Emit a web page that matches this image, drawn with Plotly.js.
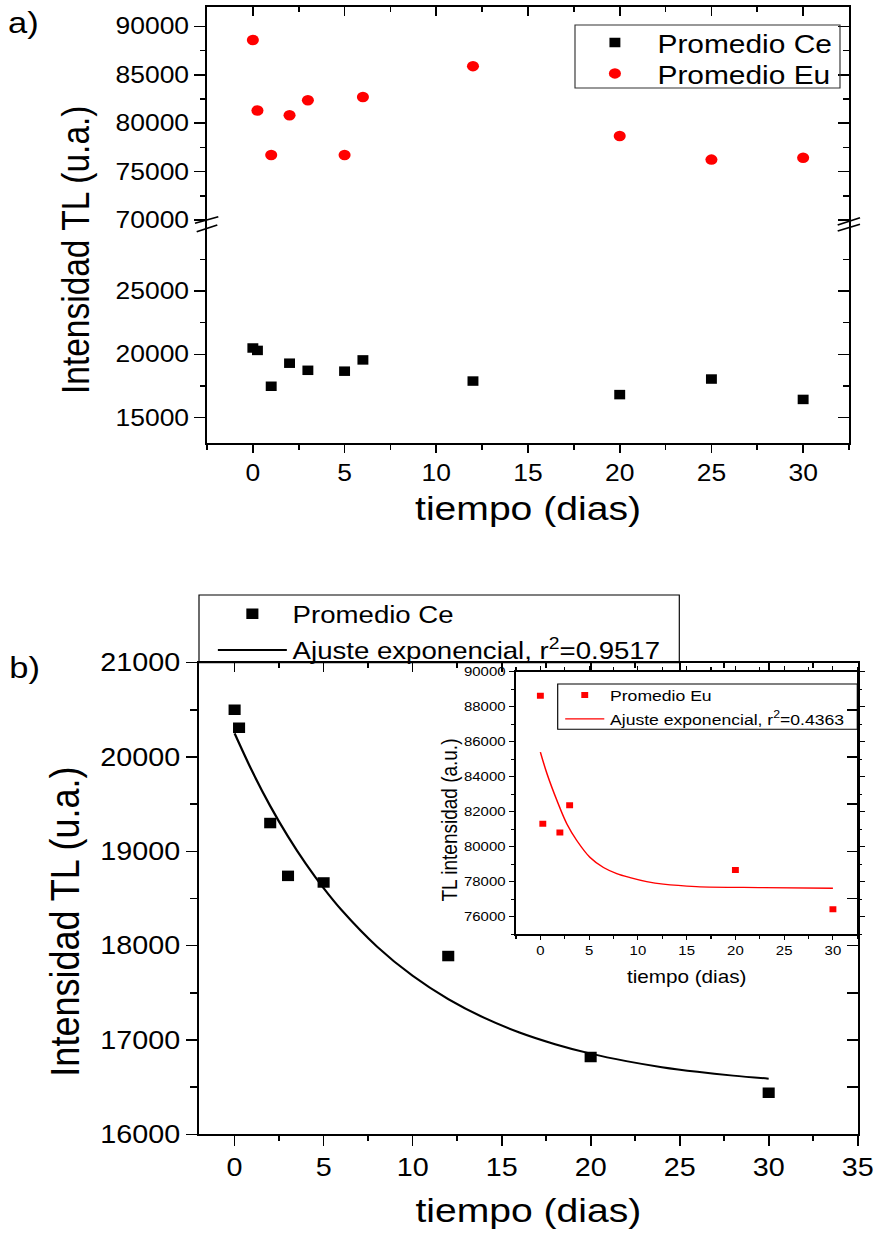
<!DOCTYPE html>
<html><head><meta charset="utf-8">
<script src="https://cdn.plot.ly/plotly-3.0.1.min.js"></script>
<style>
html,body{margin:0;padding:0;background:#fff;overflow:hidden}
#wrap{width:875px;height:1234px;overflow:hidden;position:relative}
#chart{width:761px;height:1234px;transform:scaleX(1.1498);transform-origin:0 0}
</style></head><body><div id="wrap"><div id="chart"></div></div>
<script>
// ---------- data ----------
// panel a)
var diasA = [0, 0.25, 1, 2, 3, 5, 6, 12, 20, 25, 30];
var promedioCeA = [20500, 20310, 17480, 19300, 18740, 18670, 19560, 17890, 16820, 18050, 16440];
var promedioEuA = [88600, 81320, 76720, 80820, 82370, 76720, 82710, 85890, 78680, 76240, 76430];
// panel b)
var diasB = [0, 0.25, 2, 3, 5, 12, 20, 30];
var promedioCeB = [20500, 20310, 19300, 18740, 18670, 17890, 16820, 16440];
var ajusteCeX = [0, 1, 2, 3, 4, 5, 6, 8, 10, 12, 14, 16, 18, 20, 22, 24, 26, 28, 30];
var ajusteCeY = [20250, 19844, 19481, 19157, 18868, 18610, 18379, 17990, 17680, 17433, 17236, 17079, 16955, 16855, 16776, 16712, 16662, 16622, 16590];
// inset
var diasIn = [0, 0.25, 2, 3, 20, 30];
var promedioEuIn = [88620, 81320, 80820, 82370, 78680, 76430];
var ajusteEuX = [0, 0.68, 1.7, 2.72, 3.75, 5.1, 6.47, 7.83, 9.2, 10.9, 12.6, 16, 22.8, 30];
var ajusteEuY = [85410, 84170, 82640, 81300, 80344, 79386, 78813, 78468, 78239, 78010, 77860, 77723, 77665, 77630];
// tick labels
var ticksAX = [0, 5, 10, 15, 20, 25, 30];
var ticksAYup = [70000, 75000, 80000, 85000, 90000];
var ticksAYlow = [15000, 20000, 25000];
var ticksBX = [0, 5, 10, 15, 20, 25, 30, 35];
var ticksBY = [16000, 17000, 18000, 19000, 20000, 21000];
var ticksInX = [0, 5, 10, 15, 20, 25, 30];
var ticksInY = [76000, 78000, 80000, 82000, 84000, 86000, 88000, 90000];

// ---------- helpers (positions in final picture px) ----------
function px(x){ return x / 875; }
function py(y){ return 1 - y / 1234; }
var FONT = 'Liberation Sans, Arial, sans-serif';

var traces = [
  {x: diasA, y: promedioCeA, xaxis: 'x', yaxis: 'y2', type: 'scatter', mode: 'markers', name: 'Promedio Ce',
   marker: {symbol: 'square', size: 9.5, color: '#000'}, legend: 'legend'},
  {x: diasA, y: promedioEuA, xaxis: 'x', yaxis: 'y', type: 'scatter', mode: 'markers', name: 'Promedio Eu',
   marker: {symbol: 'circle', size: 10.5, color: '#ff0000'}, legend: 'legend4'},
  {x: diasB, y: promedioCeB, xaxis: 'x3', yaxis: 'y5', type: 'scatter', mode: 'markers', name: 'Promedio Ce',
   marker: {symbol: 'square', size: 10.5, color: '#000'}, legend: 'legend2', legendgroup: 'b1'},
  {x: ajusteCeX, y: ajusteCeY, xaxis: 'x3', yaxis: 'y5', type: 'scatter', mode: 'lines', name: 'Ajuste exponencial, r<sup>2</sup>=0.9517',
   line: {color: '#000', width: 2, shape: 'spline'}, legend: 'legend2', legendgroup: 'b2'},
  {x: diasIn, y: promedioEuIn, xaxis: 'x5', yaxis: 'y7', type: 'scatter', mode: 'markers', name: 'Promedio Eu',
   marker: {symbol: 'square', size: 6, color: '#ff0000'}, legend: 'legend3', legendgroup: 'c1'},
  {x: ajusteEuX, y: ajusteEuY, xaxis: 'x5', yaxis: 'y7', type: 'scatter', mode: 'lines', name: 'Ajuste exponencial, r<sup>2</sup>=0.4363',
   line: {color: '#ff0000', width: 1.3, shape: 'spline'}, legend: 'legend3', legendgroup: 'c2'},
  // invisible carriers so the mirrored frame axes (top / right) get drawn
  {x: diasA, y: promedioEuA, xaxis: 'x2', yaxis: 'y', type: 'scatter', mode: 'none', showlegend: false, hoverinfo: 'skip'},
  {x: diasA, y: promedioEuA, xaxis: 'x', yaxis: 'y3', type: 'scatter', mode: 'none', showlegend: false, hoverinfo: 'skip'},
  {x: diasA, y: promedioCeA, xaxis: 'x', yaxis: 'y4', type: 'scatter', mode: 'none', showlegend: false, hoverinfo: 'skip'},
  {x: diasB, y: promedioCeB, xaxis: 'x4', yaxis: 'y5', type: 'scatter', mode: 'none', showlegend: false, hoverinfo: 'skip'},
  {x: diasB, y: promedioCeB, xaxis: 'x3', yaxis: 'y6', type: 'scatter', mode: 'none', showlegend: false, hoverinfo: 'skip'}
];

var axBase = {showgrid: false, zeroline: false, showline: true, linecolor: '#000', tickcolor: '#000',
  tickfont: {family: FONT, color: '#000'}, fixedrange: true, automargin: false, tickformat: 'd'};
function ax(o){ var r = {}; for (var k in axBase) r[k] = axBase[k]; for (var k2 in o) r[k2] = o[k2]; return r; }

var domAX = [px(207), px(849)];
var domBX = [px(199), px(857.7)];
var domInX = [px(516), px(857.3)];

var layout = {
  width: 761, height: 1234, margin: {l: 0, r: 0, t: 0, b: 0},
  paper_bgcolor: '#fff', plot_bgcolor: 'rgba(0,0,0,0)',
  font: {family: FONT, color: '#000'},
  // panel a
  xaxis: ax({domain: domAX, anchor: 'y2', range: [-2.5, 32.5], tickmode: 'array', tickvals: ticksAX,
    ticks: 'outside', ticklen: 8, tickwidth: 1.5, linewidth: 2, tickfont: {family: FONT, size: 23, color: '#000'},
    minor: {dtick: 2.5, tick0: 0, ticks: 'outside', ticklen: 5, tickwidth: 1.5, tickcolor: '#000'},
    title: {text: 'tiempo (dias)', font: {family: FONT, size: 34, color: '#000'}, standoff: 12}}),
  xaxis2: ax({overlaying: 'x', side: 'top', anchor: 'y', range: [-2.5, 32.5], tickmode: 'array', tickvals: ticksAX,
    ticks: 'inside', ticklen: 9, tickwidth: 1.5, linewidth: 2, showticklabels: false,
    minor: {dtick: 2.5, tick0: 0, ticks: 'inside', ticklen: 5, tickwidth: 1.5, tickcolor: '#000'}}),
  yaxis: ax({domain: [py(224), py(7)], anchor: 'x', range: [69590, 92000], tickmode: 'array', tickvals: ticksAYup,
    ticks: 'outside', ticklen: 9, tickwidth: 1.5, linewidth: 2, tickfont: {family: FONT, size: 23, color: '#000'},
    minor: {dtick: 5000, tick0: 2500, ticks: 'outside', ticklen: 4.5, tickwidth: 1.5, tickcolor: '#000'}}),
  yaxis2: ax({domain: [py(443), py(224)], anchor: 'x', range: [13000, 30290], tickmode: 'array', tickvals: ticksAYlow,
    ticks: 'outside', ticklen: 9, tickwidth: 1.5, linewidth: 2, tickfont: {family: FONT, size: 23, color: '#000'},
    minor: {dtick: 5000, tick0: 2500, ticks: 'outside', ticklen: 4.5, tickwidth: 1.5, tickcolor: '#000'}}),
  yaxis3: ax({overlaying: 'y', side: 'right', anchor: 'x', range: [69590, 92000], tickmode: 'array', tickvals: ticksAYup,
    ticks: 'inside', ticklen: 9.5, tickwidth: 1.5, linewidth: 2, showticklabels: false,
    minor: {dtick: 5000, tick0: 2500, ticks: 'inside', ticklen: 5, tickwidth: 1.5, tickcolor: '#000'}}),
  yaxis4: ax({overlaying: 'y2', side: 'right', anchor: 'x', range: [13000, 30290], tickmode: 'array', tickvals: ticksAYlow,
    ticks: 'inside', ticklen: 9.5, tickwidth: 1.5, linewidth: 2, showticklabels: false,
    minor: {dtick: 5000, tick0: 2500, ticks: 'inside', ticklen: 5, tickwidth: 1.5, tickcolor: '#000'}}),
  // panel b
  xaxis3: ax({domain: domBX, anchor: 'y5', range: [-2, 35], tickmode: 'array', tickvals: ticksBX,
    ticks: 'outside', ticklen: 10, tickwidth: 1.5, linewidth: 2, tickfont: {family: FONT, size: 25, color: '#000'},
    minor: {dtick: 2.5, tick0: 0, ticks: 'outside', ticklen: 5, tickwidth: 1.5, tickcolor: '#000'},
    title: {text: 'tiempo (dias)', font: {family: FONT, size: 34, color: '#000'}, standoff: 18}}),
  xaxis4: ax({overlaying: 'x3', side: 'top', anchor: 'y5', range: [-2, 35], tickmode: 'array', tickvals: ticksBX,
    ticks: 'inside', ticklen: 9, tickwidth: 1.5, linewidth: 2, showticklabels: false,
    minor: {dtick: 2.5, tick0: 0, ticks: 'inside', ticklen: 5, tickwidth: 1.5, tickcolor: '#000'}}),
  yaxis5: ax({domain: [py(1134.3), py(662.7)], anchor: 'x3', range: [16000, 21000], tickmode: 'array', tickvals: ticksBY,
    ticks: 'outside', ticklen: 9.3, tickwidth: 1.5, linewidth: 2, tickfont: {family: FONT, size: 25, color: '#000'},
    minor: {dtick: 1000, tick0: 500, ticks: 'outside', ticklen: 6, tickwidth: 1.5, tickcolor: '#000'}}),
  yaxis6: ax({overlaying: 'y5', side: 'right', anchor: 'x3', range: [16000, 21000], dtick: 500, tick0: 0,
    ticks: 'inside', ticklen: 9, tickwidth: 1.5, linewidth: 2, showticklabels: false}),
  // inset
  xaxis5: ax({domain: domInX, anchor: 'y7', range: [-2.5, 32.5], tickmode: 'array', tickvals: ticksInX,
    ticks: 'outside', ticklen: 4, tickwidth: 1, linewidth: 1.5, mirror: 'ticks', tickfont: {family: FONT, size: 13, color: '#000'},
    minor: {dtick: 2.5, tick0: 0, ticks: 'outside', ticklen: 3, tickwidth: 1, tickcolor: '#000'},
    title: {text: 'tiempo (dias)', font: {family: FONT, size: 18, color: '#000'}, standoff: 13}}),
  yaxis7: ax({domain: [py(934.3), py(671.7)], anchor: 'x5', range: [75000, 90000], tickmode: 'array', tickvals: ticksInY,
    ticks: 'outside', ticklen: 5, tickwidth: 1, linewidth: 1.5, mirror: 'ticks', tickfont: {family: FONT, size: 13, color: '#000'},
    minor: {dtick: 2000, tick0: 1000, ticks: 'outside', ticklen: 3, tickwidth: 1, tickcolor: '#000'}}),
  legend: {x: px(575) - 0.003, y: py(19), xanchor: 'left', yanchor: 'top', bgcolor: 'rgba(0,0,0,0)', borderwidth: 0,
    font: {family: FONT, size: 26, color: '#000'}, itemwidth: 64},
  legend4: {x: px(575) - 0.003, y: py(50), xanchor: 'left', yanchor: 'top', bgcolor: 'rgba(0,0,0,0)', borderwidth: 0,
    font: {family: FONT, size: 26, color: '#000'}, itemwidth: 64},
  legend2: {x: px(199) + 0.015, y: py(591.7), xanchor: 'left', yanchor: 'top', bgcolor: 'rgba(0,0,0,0)', borderwidth: 0,
    font: {family: FONT, size: 24, color: '#000'}, itemwidth: 60, tracegroupgap: 2},
  legend3: {x: px(557.7) + 0.002, y: py(678.5), xanchor: 'left', yanchor: 'top', bgcolor: 'rgba(0,0,0,0)', borderwidth: 0,
    font: {family: FONT, size: 15.3, color: '#000'}, itemwidth: 34, tracegroupgap: 1},
  shapes: [
    // legend boxes
    {type: 'rect', xref: 'paper', yref: 'paper', x0: px(575), x1: px(840), y0: py(88), y1: py(25), line: {color: '#333', width: 1}},
    {type: 'rect', xref: 'paper', yref: 'paper', x0: px(199), x1: px(679.3), y0: py(662.7), y1: py(595), line: {color: '#000', width: 1}},
    {type: 'rect', xref: 'paper', yref: 'paper', x0: px(557.7), x1: px(857.3), y0: py(729.3), y1: py(684), line: {color: '#000', width: 1}},
    // axis break marks
    {type: 'line', xref: 'paper', yref: 'paper', x0: px(195), y0: py(223.3), x1: px(218.3), y1: py(216.7), line: {color: '#000', width: 1.5}},
    {type: 'line', xref: 'paper', yref: 'paper', x0: px(196.7), y0: py(231.7), x1: px(217.3), y1: py(225), line: {color: '#000', width: 1.5}},
    {type: 'line', xref: 'paper', yref: 'paper', x0: px(837.7), y0: py(225), x1: px(860), y1: py(217.7), line: {color: '#000', width: 1.5}},
    {type: 'line', xref: 'paper', yref: 'paper', x0: px(837.7), y0: py(231), x1: px(860), y1: py(224.3), line: {color: '#000', width: 1.5}}
  ],
  annotations: [
    {text: 'a)', xref: 'paper', yref: 'paper', x: px(24), y: py(23), xanchor: 'center', yanchor: 'middle', showarrow: false,
     font: {family: FONT, size: 30, color: '#000'}},
    {text: 'b)', xref: 'paper', yref: 'paper', x: px(25), y: py(667), xanchor: 'center', yanchor: 'middle', showarrow: false,
     font: {family: FONT, size: 30, color: '#000'}},
    {text: 'Intensidad TL (u.a.)', xref: 'paper', yref: 'paper', x: px(76), y: py(250), xanchor: 'center', yanchor: 'middle',
     textangle: -90, showarrow: false, font: {family: FONT, size: 33.5, color: '#000'}},
    {text: 'Intensidad TL (u.a.)', xref: 'paper', yref: 'paper', x: px(64), y: py(922), xanchor: 'center', yanchor: 'middle',
     textangle: -90, showarrow: false, font: {family: FONT, size: 36, color: '#000'}},
    {text: 'TL intensidad (a.u.)', xref: 'paper', yref: 'paper', x: px(449), y: py(820), xanchor: 'center', yanchor: 'middle',
     textangle: -90, showarrow: false, font: {family: FONT, size: 19, color: '#000'}}
  ],
  showlegend: true
};

Plotly.newPlot('chart', traces, layout, {staticPlot: true, displayModeBar: false});
</script></body></html>
